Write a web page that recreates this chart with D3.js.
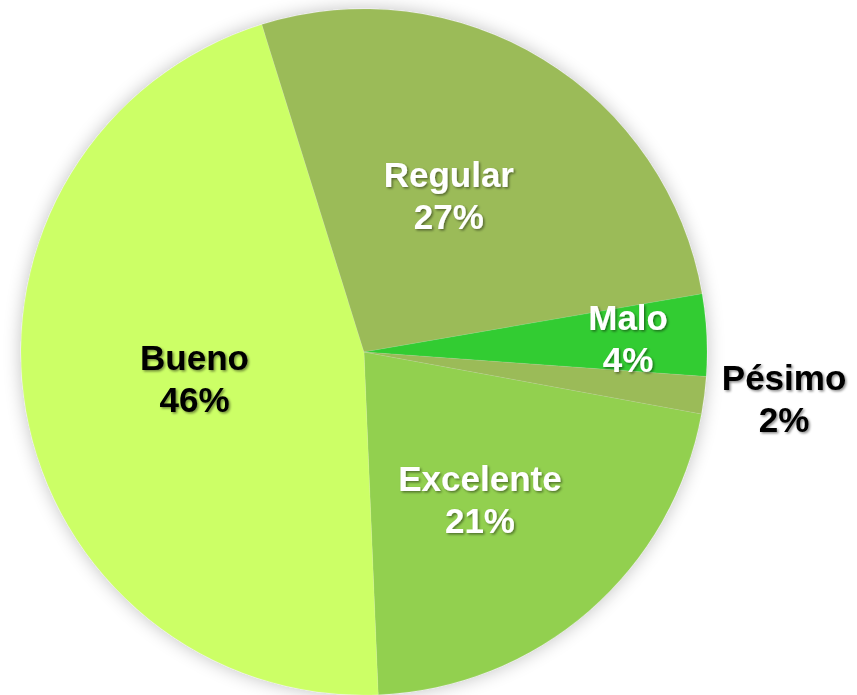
<!DOCTYPE html>
<html>
<head>
<meta charset="utf-8">
<script src="https://cdn.jsdelivr.net/npm/d3@7/dist/d3.min.js"></script>
<style>
  body { margin: 0; background: #fff; }
  svg text { font-family: "Liberation Sans", Arial, sans-serif; font-weight: bold; }
</style>
</head>
<body>
<svg id="chart" width="857" height="695"></svg>
<script>
// data, in the order the slices run clockwise
const categories = ["Excelente", "Bueno", "Regular", "Malo", "Pésimo"];
const values = [21.45, 45.85, 27.1, 3.85, 1.75];
const colors = ["#92d050", "#ccff66", "#9bbb59", "#33cc33", "#9bbb59"];
const labelColors = ["#ffffff", "#000000", "#ffffff", "#ffffff", "#000000"];

// where excel "best fit" put each label: share of radius, and angle nudge in degrees
const labelRadius = { "Excelente": 0.548, "Bueno": 0.5, "Regular": 0.519, "Malo": 0.771, "Pésimo": 1.232 };
const labelNudge = { "Excelente": 2.9, "Bueno": 1.1, "Regular": -3.0, "Malo": -0.2, "Pésimo": -1.0 };

const cx = 364, cy = 352, r = 343;
const firstAngle = 100.4; // degrees

const svg = d3.select("#chart");
const defs = svg.append("defs");

const glow = defs.append("filter").attr("id", "glow")
  .attr("x", "-20%").attr("y", "-20%").attr("width", "140%").attr("height", "140%");
glow.append("feGaussianBlur").attr("in", "SourceAlpha").attr("stdDeviation", 9).attr("result", "b");
glow.append("feComponentTransfer").attr("in", "b").attr("result", "s")
  .append("feFuncA").attr("type", "linear").attr("slope", 0.25);
const m = glow.append("feMerge");
m.append("feMergeNode").attr("in", "s");
m.append("feMergeNode").attr("in", "SourceGraphic");

const tshadow = defs.append("filter").attr("id", "tshadow")
  .attr("x", "-10%").attr("y", "-10%").attr("width", "120%").attr("height", "120%");
tshadow.append("feDropShadow").attr("dx", 1.5).attr("dy", 1.5)
  .attr("stdDeviation", 1).attr("flood-color", "#000").attr("flood-opacity", 0.45);

const data = categories.map((c, i) => ({ name: c, value: values[i], color: colors[i], text: labelColors[i] }));
const total = d3.sum(values);

const pie = d3.pie().sort(null).value(d => d.value)
  .startAngle(firstAngle * Math.PI / 180)
  .endAngle(firstAngle * Math.PI / 180 + 2 * Math.PI);
const arcs = pie(data);

const arc = d3.arc().innerRadius(0).outerRadius(r);

const g = svg.append("g").attr("transform", `translate(${cx},${cy})`);

g.append("g").attr("filter", "url(#glow)")
  .selectAll("path")
  .data(arcs)
  .enter()
  .append("path")
  .attr("d", arc)
  .attr("fill", d => d.data.color)
  .attr("stroke", "rgba(255,255,255,0.15)")
  .attr("stroke-width", 0.6);

const labels = g.append("g")
  .selectAll("text")
  .data(arcs)
  .enter()
  .append("text")
  .attr("transform", d => {
    const lr = labelRadius[d.data.name] * r;
    const mid = (d.startAngle + d.endAngle) / 2 + labelNudge[d.data.name] * Math.PI / 180;
    return `translate(${lr * Math.sin(mid)},${-lr * Math.cos(mid)})`;
  })
  .attr("text-anchor", "middle")
  .attr("font-size", 35)
  .attr("fill", d => d.data.text)
  .attr("filter", "url(#tshadow)");

labels.append("tspan").attr("x", 0).attr("y", -8.5).text(d => d.data.name);
labels.append("tspan").attr("x", 0).attr("y", 33.5)
  .text(d => Math.round(d.data.value / total * 100) + "%");
</script>
</body>
</html>
